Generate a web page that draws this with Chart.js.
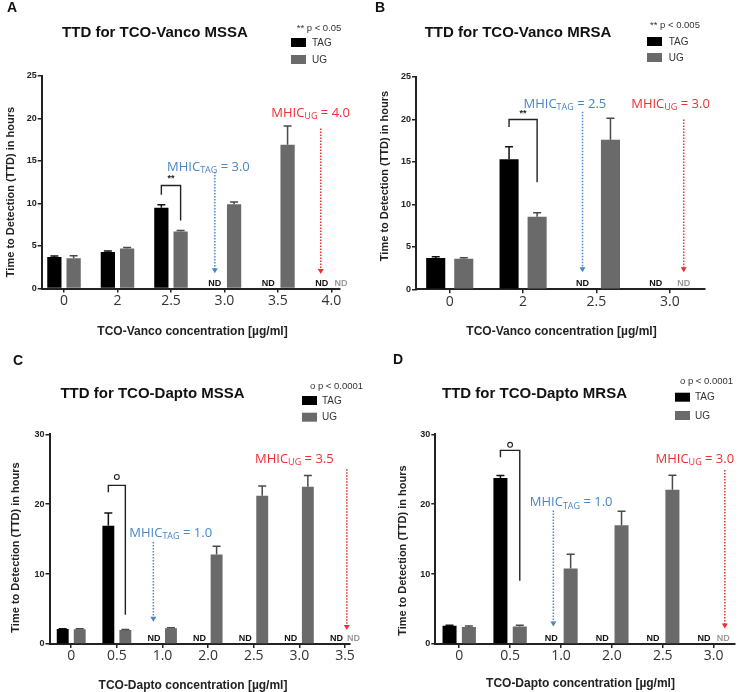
<!DOCTYPE html>
<html>
<head>
<meta charset="utf-8">
<script src="https://cdn.jsdelivr.net/npm/chart.js@4.4.1/dist/chart.umd.min.js"></script>
<style>
  body { margin: 0; background: #fff; }
  #wrap { position: relative; width: 744px; height: 692px; background: #fff; }
  .panel { position: absolute; width: 372px; height: 346px; }
</style>
</head>
<body>
<div id="wrap">
  <div class="panel" style="left:0;top:0"><canvas id="cA" width="372" height="346"></canvas></div>
  <div class="panel" style="left:372px;top:0"><canvas id="cB" width="372" height="346"></canvas></div>
  <div class="panel" style="left:0;top:346px"><canvas id="cC" width="372" height="346"></canvas></div>
  <div class="panel" style="left:372px;top:346px"><canvas id="cD" width="372" height="346"></canvas></div>
</div>
<script>
// --- Data (hours, mean + upper error) ---
const catsA = ['0', '2', '2.5', '3.0', '3.5', '4.0'];
const tagA = [3.7, 4.3, 9.5, null, null, null];
const tagErrA = [0.12, 0.1, 0.35, null, null, null];
const ugA = [3.55, 4.7, 6.7, 9.9, 16.9, null];
const ugErrA = [0.3, 0.12, 0.12, 0.25, 2.2, null];
const yTicksA = [0, 5, 10, 15, 20, 25];

const catsB = ['0', '2', '2.5', '3.0'];
const tagB = [3.7, 15.3, null, null];
const tagErrB = [0.12, 1.5, null, null];
const ugB = [3.6, 8.55, 17.6, null];
const ugErrB = [0.12, 0.45, 2.55, null];
const yTicksB = [0, 5, 10, 15, 20, 25];

const catsC = ['0', '0.5', '1.0', '2.0', '2.5', '3.0', '3.5'];
const tagC = [2.14, 16.9, null, null, null, null, null];
const tagErrC = [0.05, 1.85, null, null, null, null, null];
const ugC = [2.1, 2.0, 2.24, 12.8, 21.2, 22.5, null];
const ugErrC = [0.08, 0.08, 0.08, 1.2, 1.4, 1.6, null];
const yTicksC = [0, 10, 20, 30];

const catsD = ['0', '0.5', '1.0', '2.0', '2.5', '3.0'];
const tagD = [2.62, 23.76, null, null, null, null];
const tagErrD = [0.05, 0.35, null, null, null, null];
const ugD = [2.43, 2.52, 10.8, 17.0, 22.05, null];
const ugErrD = [0.15, 0.18, 2.05, 2.0, 2.1, null];
const yTicksD = [0, 10, 20, 30];

// --- Annotations (data coordinates: x = category index, y = hours) ---
const mhicA = [
    { x: 2.70, y: 14.4, sub: 'TAG', tail: ' = 3.0', color: '#4a86c6', top: 13.7, tip: 1.8, ax: 2.82 },
    { x: 4.61, y: 20.7, sub: 'UG', tail: ' = 4.0', color: '#ec2f2f', top: 18.8, tip: 1.7, ax: 4.80 }
];
const mhicB = [
    { x: 1.57, y: 21.9, sub: 'TAG', tail: ' = 2.5', color: '#4a86c6', top: 20.9, tip: 2.0, ax: 1.81 },
    { x: 3.01, y: 21.9, sub: 'UG', tail: ' = 3.0', color: '#ec2f2f', top: 20.0, tip: 2.0, ax: 3.19 }
];
const mhicC = [
    { x: 2.18, y: 16.0, sub: 'TAG', tail: ' = 1.0', color: '#4a86c6', top: 14.6, tip: 3.2, ax: 1.80 },
    { x: 4.89, y: 26.6, sub: 'UG', tail: ' = 3.5', color: '#ec2f2f', top: 25.0, tip: 2.0, ax: 6.04 }
];
const mhicD = [
    { x: 2.20, y: 20.4, sub: 'TAG', tail: ' = 1.0', color: '#4a86c6', top: 19.1, tip: 2.5, ax: 1.85 },
    { x: 4.63, y: 26.6, sub: 'UG', tail: ' = 3.0', color: '#ec2f2f', top: 24.9, tip: 2.2, ax: 5.22 }
];
const bracketA = { i: 2, from: 11.0, top: 12.1, to: 8.0, mark: '**', markY: 12.9 };
const bracketB = { i: 1, from: 19.1, top: 20.0, to: 12.6, mark: '**', markY: 20.7 };
const bracketC = { i: 1, from: 21.7, top: 22.7, to: 4.2, mark: 'o', markY: 23.9 };
const bracketD = { i: 1, from: 26.7, top: 27.7, to: 9.05, mark: 'o', markY: 28.5 };

const TAG_COLOR = '#000000';
const UG_COLOR = '#6a6a6a';

// --- Panel layout (pixels inside each 372x346 canvas) ---
const panels = [
    {
        id: 'cA', letter: 'A', title: 'TTD for TCO-Vanco MSSA', xTitle: 'TCO-Vanco concentration [µg/ml]', pText: '** p < 0.05',
        cats: catsA, tag: tagA, tagErr: tagErrA, ug: ugA, ugErr: ugErrA, yTicks: yTicksA, yMax: 25,
        mhic: mhicA, bracket: bracketA, xMin: -0.417, xMax: 5.16, cp: 0.72, bp: 0.74,
        area: { left: 41.7, right: 340, top: 75.7, bottom: 288.5 },
        letterPos: [12, 8], titlePos: [155, 33.3], xTitlePos: [192.5, 331.7], yTitlePos: [11, 192],
        legend: { px: 296.7, py: 28, bx: 291, by: [38, 55], lx: 312 }
    },
    {
        id: 'cB', letter: 'B', title: 'TTD for TCO-Vanco MRSA', xTitle: 'TCO-Vanco concentration [µg/ml]', pText: '** p < 0.005',
        cats: catsB, tag: tagB, tagErr: tagErrB, ug: ugB, ugErr: ugErrB, yTicks: yTicksB, yMax: 25,
        mhic: mhicB, bracket: bracketB, xMin: -0.46, xMax: 3.48, cp: 0.765, bp: 0.68,
        area: { left: 44, right: 333, top: 77, bottom: 289.3 },
        letterPos: [8, 8], titlePos: [146, 32.7], xTitlePos: [189.5, 331.7], yTitlePos: [12.5, 176],
        legend: { px: 278, py: 25, bx: 275, by: [37, 53], lx: 296.7 }
    },
    {
        id: 'cC', letter: 'C', title: 'TTD for TCO-Dapto MSSA', xTitle: 'TCO-Dapto concentration [µg/ml]', pText: 'o p < 0.0001',
        cats: catsC, tag: tagC, tagErr: tagErrC, ug: ugC, ugErr: ugErrC, yTicks: yTicksC, yMax: 30,
        mhic: mhicC, bracket: bracketC, xMin: -0.476, xMax: 6.11, cp: 0.745, bp: 0.70,
        area: { left: 49.5, right: 350, top: 88.3, bottom: 298 },
        letterPos: [18, 15], titlePos: [152.5, 48.3], xTitlePos: [193, 339.5], yTitlePos: [16, 201.5],
        legend: { px: 310, py: 40, bx: 302, by: [50, 66.7], lx: 322 }
    },
    {
        id: 'cD', letter: 'D', title: 'TTD for TCO-Dapto MRSA', xTitle: 'TCO-Dapto concentration [µg/ml]', pText: 'o p < 0.0001',
        cats: catsD, tag: tagD, tagErr: tagErrD, ug: ugD, ugErr: ugErrD, yTicks: yTicksD, yMax: 30,
        mhic: mhicD, bracket: bracketD, xMin: -0.47, xMax: 5.42, cp: 0.76, bp: 0.725,
        area: { left: 63.3, right: 363, top: 88.3, bottom: 298 },
        letterPos: [26, 14], titlePos: [162.5, 48.3], xTitlePos: [208.5, 337.5], yTitlePos: [31, 204.6],
        legend: { px: 308, py: 35, bx: 303, by: [46.7, 65], lx: 323 }
    }
];

const SANS = '"Liberation Sans", Arial, sans-serif';
const OPEN = '"Open Sans", sans-serif';
const X_SCALE_H = 30;

// --- Decorations drawn from the chart's own scales ---
const decorPlugin = {
    id: 'decor',
    afterDatasetsDraw(chart, args, opts) {
        const p = opts.panel;
        const { ctx, scales: { x, y } } = chart;
        const slot = (i, side) => x.getPixelForValue(i + side * p.cp / 4);
        ctx.save();

        // error bars (upper only)
        [[p.tag, p.tagErr, '#111'], [p.ug, p.ugErr, '#4a4a4a']].forEach(([vals, errs, col], di) => {
            const meta = chart.getDatasetMeta(di);
            vals.forEach((v, i) => {
                if (v === null || !errs[i]) return;
                const px = meta.data[i].x;
                const y0 = y.getPixelForValue(v);
                const y1 = y.getPixelForValue(v + errs[i]);
                ctx.strokeStyle = col;
                ctx.lineWidth = 1.5;
                ctx.beginPath();
                ctx.moveTo(px, y0);
                ctx.lineTo(px, y1);
                ctx.moveTo(px - 4, y1);
                ctx.lineTo(px + 4, y1);
                ctx.stroke();
            });
        });

        // ND labels for missing bars
        ctx.font = 'bold 9px ' + SANS;
        ctx.textAlign = 'center';
        ctx.textBaseline = 'alphabetic';
        p.cats.forEach((c, i) => {
            if (p.tag[i] === null) {
                ctx.fillStyle = '#111';
                ctx.fillText('ND', slot(i, -1), y.getPixelForValue(0) - 3);
            }
            if (p.ug[i] === null) {
                ctx.fillStyle = '#9a9a9a';
                ctx.fillText('ND', slot(i, 1), y.getPixelForValue(0) - 3);
            }
        });

        // significance bracket
        const b = p.bracket;
        const bl = slot(b.i, -1), br = slot(b.i, 1);
        ctx.strokeStyle = '#222';
        ctx.lineWidth = 1.4;
        ctx.beginPath();
        ctx.moveTo(bl, y.getPixelForValue(b.from));
        ctx.lineTo(bl, y.getPixelForValue(b.top));
        ctx.lineTo(br, y.getPixelForValue(b.top));
        ctx.lineTo(br, y.getPixelForValue(b.to));
        ctx.stroke();
        ctx.fillStyle = '#222';
        const mx = (bl + br) / 2, my = y.getPixelForValue(b.markY);
        if (b.mark === 'o') {
            ctx.lineWidth = 1.1;
            ctx.beginPath();
            ctx.arc(mx, my, 2.4, 0, Math.PI * 2);
            ctx.stroke();
        } else {
            ctx.font = 'bold 9px ' + SANS;
            ctx.textBaseline = 'middle';
            ctx.fillText(b.mark, mx, my);
        }

        // MHIC dotted arrows and labels
        p.mhic.forEach(m => {
            const ax = x.getPixelForValue(m.ax);
            const yt = y.getPixelForValue(m.top);
            const yb = y.getPixelForValue(m.tip);
            ctx.strokeStyle = m.color;
            ctx.fillStyle = m.color;
            ctx.lineWidth = 1.5;
            ctx.setLineDash([1.5, 1.5]);
            ctx.beginPath();
            ctx.moveTo(ax, yt);
            ctx.lineTo(ax, yb - 4);
            ctx.stroke();
            ctx.setLineDash([]);
            ctx.beginPath();
            ctx.moveTo(ax - 3, yb - 5);
            ctx.lineTo(ax + 3, yb - 5);
            ctx.lineTo(ax, yb);
            ctx.closePath();
            ctx.fill();

            const main = '13px ' + OPEN, small = '9px ' + OPEN;
            ctx.font = main;
            const w1 = ctx.measureText('MHIC').width;
            const w3 = ctx.measureText(m.tail).width;
            ctx.font = small;
            const w2 = ctx.measureText(m.sub).width;
            const cx = x.getPixelForValue(m.x);
            const base = y.getPixelForValue(m.y) + 4.6;
            let sx = cx - (w1 + w2 + w3) / 2;
            ctx.textAlign = 'left';
            ctx.textBaseline = 'alphabetic';
            ctx.font = main;
            ctx.fillText('MHIC', sx, base);
            ctx.font = small;
            ctx.fillText(m.sub, sx + w1, base + 2.5);
            ctx.font = main;
            ctx.fillText(m.tail, sx + w1 + w2, base);
            ctx.textAlign = 'center';
        });
        ctx.restore();
    },
    afterDraw(chart, args, opts) {
        const p = opts.panel;
        const ctx = chart.ctx;
        ctx.save();
        ctx.textBaseline = 'middle';
        ctx.textAlign = 'center';
        ctx.fillStyle = '#111';
        ctx.font = 'bold 14px ' + SANS;
        ctx.fillText(p.letter, p.letterPos[0], p.letterPos[1]);
        ctx.font = 'bold 15px ' + SANS;
        ctx.fillText(p.title, p.titlePos[0], p.titlePos[1]);
        ctx.font = 'bold 12px ' + SANS;
        ctx.fillStyle = '#222';
        ctx.fillText(p.xTitle, p.xTitlePos[0], p.xTitlePos[1]);
        ctx.save();
        ctx.translate(p.yTitlePos[0], p.yTitlePos[1]);
        ctx.rotate(-Math.PI / 2);
        ctx.font = 'bold 11px ' + SANS;
        ctx.fillText('Time to Detection (TTD) in hours', 0, 0);
        ctx.restore();

        // legend
        const L = p.legend;
        ctx.textAlign = 'left';
        ctx.fillStyle = '#333';
        ctx.font = '9.5px ' + SANS;
        ctx.fillText(p.pText, L.px, L.py);
        [['TAG', TAG_COLOR], ['UG', UG_COLOR]].forEach(([name, col], k) => {
            ctx.fillStyle = col;
            ctx.fillRect(L.bx, L.by[k], 15, 9);
            ctx.fillStyle = '#333';
            ctx.font = '10px ' + SANS;
            ctx.fillText(name, L.lx, L.by[k] + 4.8);
        });
        ctx.restore();
    }
};

function buildPanel(p) {
    const a = p.area;
    const pts = vals => vals.map((v, i) => ({ x: i, y: v }));
    new Chart(document.getElementById(p.id), {
        type: 'bar',
        data: {
            datasets: [
                { label: 'TAG', data: pts(p.tag), backgroundColor: TAG_COLOR, categoryPercentage: p.cp, barPercentage: p.bp },
                { label: 'UG', data: pts(p.ug), backgroundColor: UG_COLOR, categoryPercentage: p.cp, barPercentage: p.bp }
            ]
        },
        options: {
            responsive: false,
            animation: false,
            devicePixelRatio: 1,
            layout: { padding: { left: 0, top: a.top, right: 372 - a.right, bottom: 346 - a.bottom - X_SCALE_H } },
            plugins: { legend: { display: false }, title: { display: false }, tooltip: { enabled: false }, decor: { panel: p } },
            scales: {
                x: {
                    type: 'linear', min: p.xMin, max: p.xMax, offset: false,
                    afterBuildTicks: s => { s.ticks = p.cats.map((_, i) => ({ value: i })); },
                    afterFit: s => { s.height = X_SCALE_H; },
                    ticks: {
                        callback: v => p.cats[v], autoSkip: false, maxRotation: 0,
                        font: { family: OPEN, size: 14 }, color: '#333', padding: 0
                    },
                    grid: { offset: false, drawOnChartArea: false, drawTicks: true, tickLength: 4, color: '#222', lineWidth: 1.5 },
                    border: { color: '#222', width: 2 }
                },
                y: {
                    min: 0, max: p.yMax,
                    afterBuildTicks: s => { s.ticks = p.yTicks.map(v => ({ value: v })); },
                    afterFit: s => { s.width = a.left; },
                    ticks: { font: { family: SANS, size: 9, weight: 'bold' }, color: '#222', padding: 1 },
                    grid: { drawOnChartArea: false, drawTicks: true, tickLength: 4, color: '#222', lineWidth: 1.5 },
                    border: { color: '#222', width: 2 }
                }
            }
        },
        plugins: [decorPlugin]
    });
}

document.addEventListener('DOMContentLoaded', () => {
    panels.forEach(buildPanel);
});
</script>
</body>
</html>
